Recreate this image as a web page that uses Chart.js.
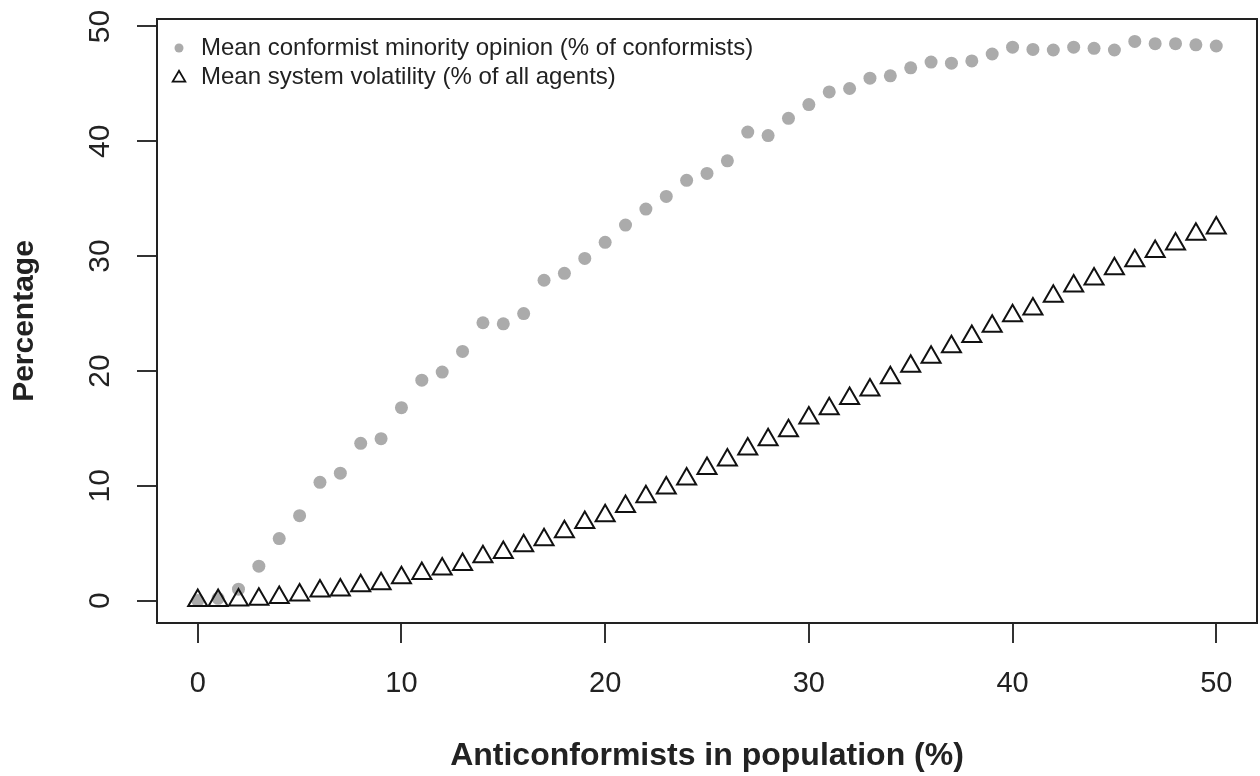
<!DOCTYPE html>
<html>
<head>
<meta charset="utf-8">
<script src="https://cdn.jsdelivr.net/npm/chart.js@4.4.1/dist/chart.umd.min.js"></script>
<style>
  html, body { margin: 0; padding: 0; background: #fff; }
  #wrap { width: 1260px; height: 776px; }
</style>
</head>
<body>
<div id="wrap"><canvas id="chart1" width="1260" height="776"></canvas></div>
<script>
// anticonformists in population (%)
const xValues = [0, 1, 2, 3, 4, 5, 6, 7, 8, 9, 10, 11, 12, 13, 14, 15, 16, 17, 18, 19, 20,
  21, 22, 23, 24, 25, 26, 27, 28, 29, 30, 31, 32, 33, 34, 35, 36, 37, 38, 39, 40,
  41, 42, 43, 44, 45, 46, 47, 48, 49, 50];

// mean conformist minority opinion (% of conformists)
const minorityOpinion = [0, 0.2, 1.0, 3.0, 5.4, 7.4, 10.3, 11.1, 13.7, 14.1, 16.8,
  19.2, 19.9, 21.7, 24.2, 24.1, 25.0, 27.9, 28.5, 29.8, 31.2,
  32.7, 34.1, 35.2, 36.6, 37.2, 38.3, 40.8, 40.5, 42.0, 43.2,
  44.3, 44.6, 45.5, 45.7, 46.4, 46.9, 46.8, 47.0, 47.6, 48.2,
  48.0, 47.95, 48.2, 48.1, 47.95, 48.7, 48.5, 48.5, 48.4, 48.3];

// mean system volatility (% of all agents)
const volatility = [0, 0, 0.05, 0.12, 0.28, 0.48, 0.83, 0.92, 1.29, 1.47, 1.99,
  2.37, 2.75, 3.15, 3.82, 4.2, 4.78, 5.3, 6.0, 6.8, 7.4,
  8.2, 9.05, 9.8, 10.6, 11.5, 12.25, 13.2, 14.0, 14.8, 15.9,
  16.7, 17.6, 18.35, 19.4, 20.4, 21.2, 22.1, 23.0, 23.9, 24.8,
  25.4, 26.5, 27.4, 28.0, 28.9, 29.6, 30.4, 31.05, 31.9, 32.45];

const tickValues = [0, 10, 20, 30, 40, 50];
const seriesLabels = ['Mean conformist minority opinion (% of conformists)', 'Mean system volatility (% of all agents)'];
const xTitle = 'Anticonformists in population (%)';
const yTitle = 'Percentage';

const FONT = '"Liberation Sans", Arial, Helvetica, sans-serif';
const TEXT = '#222';

let toPoints = (arr) => xValues.map((x, i) => ({ x: x, y: arr[i] }));

// box round the plot, like R's box()
const boxPlugin = {
  id: 'box',
  afterDraw(chart) {
    const { ctx, chartArea: a } = chart;
    ctx.save();
    ctx.strokeStyle = '#222';
    ctx.lineWidth = 2;
    ctx.strokeRect(a.left, a.top, a.right - a.left, a.bottom - a.top);
    ctx.restore();
  }
};

// legend in top left corner of the plot, no frame
const legendPlugin = {
  id: 'rlegend',
  afterDraw(chart) {
    const { ctx, chartArea: a } = chart;
    const styles = [
      { pointStyle: 'circle', radius: 4.5, backgroundColor: '#ababab', borderColor: '#ababab', borderWidth: 0 },
      { pointStyle: 'triangle', radius: 7.3, backgroundColor: 'rgba(0,0,0,0)', borderColor: '#111', borderWidth: 1.8 }
    ];
    ctx.save();
    ctx.font = '24px ' + FONT;
    ctx.textBaseline = 'middle';
    chart.data.datasets.forEach((ds, i) => {
      const y = a.top + 29 + i * 29;
      const st = styles[i];
      ctx.fillStyle = st.backgroundColor;
      ctx.strokeStyle = st.borderColor;
      ctx.lineWidth = st.borderWidth;
      Chart.helpers.drawPoint(ctx, st, a.left + 22, y + (i === 1 ? 1 : 0));
      ctx.fillStyle = TEXT;
      ctx.fillText(ds.label, a.left + 44, y);
    });
    ctx.restore();
  }
};

const ctx1 = document.getElementById('chart1').getContext('2d');
new Chart(ctx1, {
  type: 'scatter',
  data: {
    datasets: [{
      label: seriesLabels[0],
      data: toPoints(minorityOpinion),
      pointStyle: 'circle',
      pointRadius: 6.5,
      pointBackgroundColor: '#ababab',
      pointBorderColor: '#ababab',
      pointBorderWidth: 0,
      order: 2
    }, {
      label: seriesLabels[1],
      data: toPoints(volatility),
      pointStyle: 'triangle',
      pointRadius: 11,
      pointBackgroundColor: 'rgba(0,0,0,0)',
      pointBorderColor: '#111',
      pointBorderWidth: 2,
      order: 1
    }]
  },
  options: {
    responsive: false,
    animation: false,
    devicePixelRatio: 1,
    events: [],
    layout: { autoPadding: false, padding: { top: 19, right: 3, bottom: 0, left: 0 } },
    plugins: {
      legend: { display: false },
      tooltip: { enabled: false }
    },
    scales: {
      x: {
        type: 'linear',
        min: -2,
        max: 52,
        afterBuildTicks: (s) => { s.ticks = tickValues.map(v => ({ value: v })); },
        afterFit: (s) => { s.height = 153; s.paddingLeft = 0; s.paddingRight = 0; },
        grid: { drawOnChartArea: false, drawTicks: true, tickLength: 20, color: '#333', lineWidth: 2 },
        border: { display: true, color: '#222', width: 2 },
        ticks: { font: { size: 29, family: FONT }, color: TEXT, padding: 24, maxRotation: 0, autoSkip: false },
        title: { display: true, text: xTitle, font: { size: 32, weight: 'bold', family: FONT }, color: TEXT, padding: { top: 0, bottom: 1 } }
      },
      y: {
        type: 'linear',
        min: -1.95,
        max: 50.65,
        afterBuildTicks: (s) => { s.ticks = tickValues.map(v => ({ value: v })); },
        afterFit: (s) => { s.width = 157; s.paddingTop = 0; s.paddingBottom = 0; },
        grid: { drawOnChartArea: false, drawTicks: true, tickLength: 20, color: '#333', lineWidth: 2 },
        border: { display: true, color: '#222', width: 2 },
        ticks: { font: { size: 30, family: FONT }, color: TEXT, padding: 20, minRotation: 90, maxRotation: 90, crossAlign: 'center', autoSkip: false },
        title: { display: true, text: yTitle, font: { size: 30, weight: 'bold', family: FONT }, color: TEXT, padding: { top: 7, bottom: 0 } }
      }
    }
  },
  plugins: [boxPlugin, legendPlugin]
});
</script>
</body>
</html>
